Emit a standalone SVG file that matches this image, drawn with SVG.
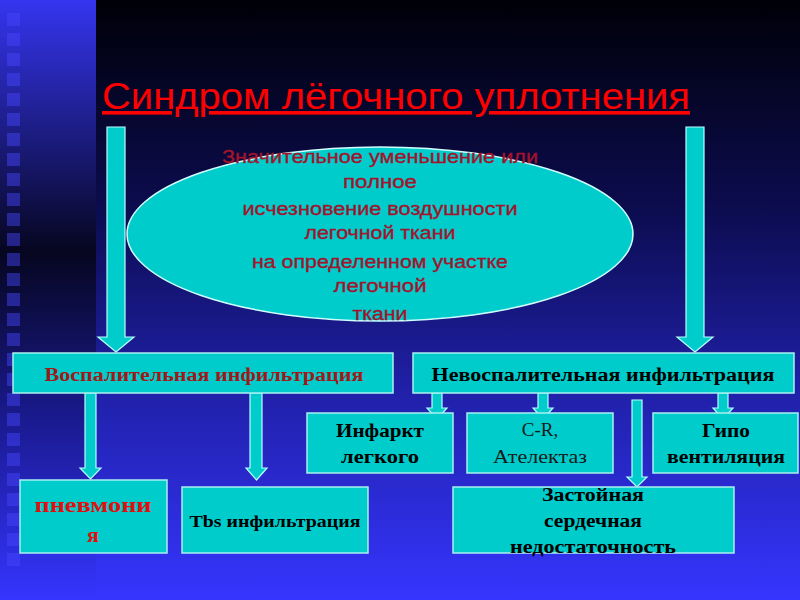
<svg xmlns="http://www.w3.org/2000/svg" width="800" height="600" viewBox="0 0 800 600">
<defs>
<linearGradient id="bgMain" x1="0" y1="0" x2="0" y2="1">
<stop offset="0" stop-color="#000008"/>
<stop offset="0.35" stop-color="#0c0c50"/>
<stop offset="0.65" stop-color="#2020a8"/>
<stop offset="1" stop-color="#3535ff"/>
</linearGradient>
<linearGradient id="bgStrip" x1="0" y1="0" x2="0" y2="1">
<stop offset="0" stop-color="#3535f0"/>
<stop offset="0.42" stop-color="#060620"/>
<stop offset="0.7" stop-color="#1a1a90"/>
<stop offset="1" stop-color="#3535ff"/>
</linearGradient>
<style>
.box{fill:#00cccc;stroke:#a8f0f0;stroke-width:1.5}
.arr{fill:#00cccc;stroke:#b8ffff;stroke-width:1.2}
.sq{fill:#4848ff;opacity:0.45}
.ell{font-family:"Liberation Sans",Arial,sans-serif;font-size:18px;fill:#a0142c;stroke:#a0142c;stroke-width:0.35;text-anchor:middle}
.bt{font-family:"Liberation Serif","Times New Roman",serif;font-weight:bold;font-size:18px;fill:#000;text-anchor:middle}
.rt{font-family:"Liberation Serif","Times New Roman",serif;font-size:19px;fill:#1a1a1a;text-anchor:middle}
</style>
</defs>
<rect x="0" y="0" width="800" height="600" fill="url(#bgMain)"/>
<rect x="0" y="0" width="96" height="600" fill="url(#bgStrip)"/>
<g id="strip-squares">
<rect class="sq" x="7" y="13" width="13" height="13"/>
<rect class="sq" x="7" y="33" width="13" height="13"/>
<rect class="sq" x="7" y="53" width="13" height="13"/>
<rect class="sq" x="7" y="73" width="13" height="13"/>
<rect class="sq" x="7" y="93" width="13" height="13"/>
<rect class="sq" x="7" y="113" width="13" height="13"/>
<rect class="sq" x="7" y="133" width="13" height="13"/>
<rect class="sq" x="7" y="153" width="13" height="13"/>
<rect class="sq" x="7" y="173" width="13" height="13"/>
<rect class="sq" x="7" y="193" width="13" height="13"/>
<rect class="sq" x="7" y="213" width="13" height="13"/>
<rect class="sq" x="7" y="233" width="13" height="13"/>
<rect class="sq" x="7" y="253" width="13" height="13"/>
<rect class="sq" x="7" y="273" width="13" height="13"/>
<rect class="sq" x="7" y="293" width="13" height="13"/>
<rect class="sq" x="7" y="313" width="13" height="13"/>
<rect class="sq" x="7" y="333" width="13" height="13"/>
<rect class="sq" x="7" y="353" width="13" height="13"/>
<rect class="sq" x="7" y="373" width="13" height="13"/>
<rect class="sq" x="7" y="393" width="13" height="13"/>
<rect class="sq" x="7" y="413" width="13" height="13"/>
<rect class="sq" x="7" y="433" width="13" height="13"/>
<rect class="sq" x="7" y="453" width="13" height="13"/>
<rect class="sq" x="7" y="473" width="13" height="13"/>
<rect class="sq" x="7" y="493" width="13" height="13"/>
<rect class="sq" x="7" y="513" width="13" height="13"/>
<rect class="sq" x="7" y="533" width="13" height="13"/>
<rect class="sq" x="7" y="553" width="13" height="13"/>
</g>
<g id="title">
<text x="102" y="109" font-family="Liberation Sans, Arial, sans-serif" font-size="36" fill="#ff0000" text-decoration="underline" textLength="588" lengthAdjust="spacingAndGlyphs">Синдром лёгочного уплотнения</text>
</g>
<g id="connectors">
<polygon class="arr" points="107,127 125,127 125,337 134,337 116,352 98,337 107,337"/>
<polygon class="arr" points="686,127 704,127 704,337 713,337 695,352 677,337 686,337"/>
<polygon class="arr" points="85,393 96,393 96,468 101,468 90.5,479 80,468 85,468"/>
<polygon class="arr" points="250,393 262,393 262,468 267,468 256.5,480 246,468 250,468"/>
<polygon class="arr" points="432,393 442,393 442,408 447,408 437,419 427,408 432,408"/>
<polygon class="arr" points="538,393 548,393 548,408 553,408 543,419 533,408 538,408"/>
<polygon class="arr" points="718,393 728,393 728,408 733,408 723,419 713,408 718,408"/>
<polygon class="arr" points="632,400 642,400 642,477 647,477 637,487 627,477 632,477"/>
</g>
<g id="definition">
<ellipse cx="380" cy="234" rx="253" ry="87" fill="#00cccc" stroke="#d0ffff" stroke-width="1.5"/>
<text class="ell" x="380" y="163" textLength="316" lengthAdjust="spacingAndGlyphs">Значительное уменьшение или</text>
<text class="ell" x="380" y="188" textLength="74" lengthAdjust="spacingAndGlyphs">полное</text>
<text class="ell" x="380" y="215" textLength="275" lengthAdjust="spacingAndGlyphs">исчезновение воздушности</text>
<text class="ell" x="380" y="239" textLength="151" lengthAdjust="spacingAndGlyphs">легочной ткани</text>
<text class="ell" x="380" y="268" textLength="256" lengthAdjust="spacingAndGlyphs">на определенном участке</text>
<text class="ell" x="380" y="292" textLength="93" lengthAdjust="spacingAndGlyphs">легочной</text>
<text class="ell" x="380" y="320" textLength="55" lengthAdjust="spacingAndGlyphs">ткани</text>
</g>
<g id="inflammatory">
<rect class="box" x="13" y="353" width="380" height="40"/>
<text class="bt" x="204" y="381" style="fill:#a01818" textLength="319" lengthAdjust="spacingAndGlyphs">Воспалительная инфильтрация</text>
</g>
<g id="noninflammatory">
<rect class="box" x="413" y="353" width="381" height="40"/>
<text class="bt" x="603" y="381" textLength="343" lengthAdjust="spacingAndGlyphs">Невоспалительная инфильтрация</text>
</g>
<g id="pneumonia">
<rect class="box" x="20" y="480" width="147" height="73"/>
<text class="bt" x="93" y="512" style="fill:#e01010;font-size:21px" textLength="117" lengthAdjust="spacingAndGlyphs">пневмони</text>
<text class="bt" x="93" y="542" style="fill:#e01010;font-size:22px">я</text>
</g>
<g id="tbs">
<rect class="box" x="182" y="487" width="186" height="66"/>
<text class="bt" x="275" y="527" style="font-size:17px" textLength="171" lengthAdjust="spacingAndGlyphs">Tbs инфильтрация</text>
</g>
<g id="infarct">
<rect class="box" x="307" y="413" width="146" height="60"/>
<text class="bt" x="380" y="437" textLength="88" lengthAdjust="spacingAndGlyphs">Инфаркт</text>
<text class="bt" x="380" y="463" textLength="78" lengthAdjust="spacingAndGlyphs">легкого</text>
</g>
<g id="atelectasis">
<rect class="box" x="467" y="413" width="146" height="60"/>
<text class="rt" x="540" y="436">C-R,</text>
<text class="rt" x="540" y="463" textLength="94" lengthAdjust="spacingAndGlyphs">Ателектаз</text>
</g>
<g id="hypoventilation">
<rect class="box" x="653" y="413" width="145" height="60"/>
<text class="bt" x="726" y="437" textLength="48" lengthAdjust="spacingAndGlyphs">Гипо</text>
<text class="bt" x="726" y="463" textLength="118" lengthAdjust="spacingAndGlyphs">вентиляция</text>
</g>
<g id="heart-failure">
<rect class="box" x="453" y="487" width="281" height="66"/>
<text class="bt" x="593" y="501" textLength="102" lengthAdjust="spacingAndGlyphs">Застойная</text>
<text class="bt" x="593" y="527" textLength="98" lengthAdjust="spacingAndGlyphs">сердечная</text>
<text class="bt" x="593" y="553" textLength="166" lengthAdjust="spacingAndGlyphs">недостаточность</text>
</g>
</svg>
